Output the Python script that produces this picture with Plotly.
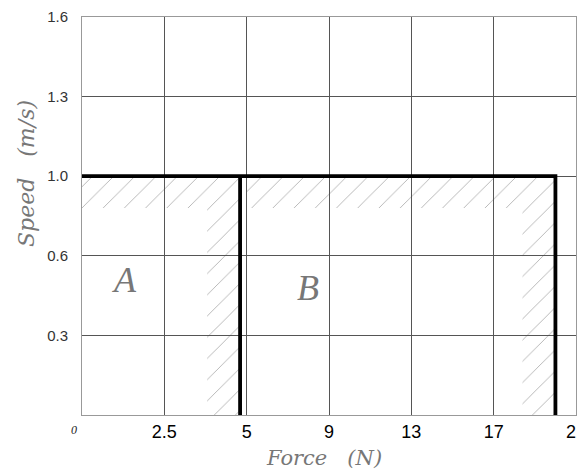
import numpy as np
import plotly.graph_objects as go

# ---- data ----
force_ticks = [0, 2.5, 5, 9, 13, 17, 21]
force_labels = ["", "2.5", "5", "9", "13", "17", "21"]
speed_ticks = [0, 0.3, 0.6, 1.0, 1.3, 1.6]
speed_labels = ["", "0.3", "0.6", "1.0", "1.3", "1.6"]

limit_speed = 1.0
boundary_A = 4.8
boundary_B = 20.0
hatch_band_speed = 0.84
hatch_A_inner = 3.8
hatch_B_start = 5.0
hatch_B_inner = 18.4

region_names = ["A", "B"]
region_force = [1.3, 8.0]
region_speed = [0.51, 0.48]

# ---- piecewise scale (ticks are equally spaced) ----
def fx(v):
    return np.interp(v, force_ticks, np.arange(len(force_ticks))).tolist()

def fy(v):
    return np.interp(v, speed_ticks, np.arange(len(speed_ticks))).tolist()

fig = go.Figure()

hatch = dict(shape="/", fgcolor="#444444", bgcolor="rgba(0,0,0,0)", size=15, solidity=0.05)

polyA_x = [0, boundary_A, boundary_A, hatch_A_inner, hatch_A_inner, 0, 0]
polyA_y = [limit_speed, limit_speed, 0, 0, hatch_band_speed, hatch_band_speed, limit_speed]
polyB_x = [hatch_B_start, boundary_B, boundary_B, hatch_B_inner, hatch_B_inner, hatch_B_start, hatch_B_start]
polyB_y = polyA_y

for px, py in [(polyA_x, polyA_y), (polyB_x, polyB_y)]:
    fig.add_trace(go.Scatter(x=fx(px), y=fy(py), mode="lines", fill="toself",
                             fillcolor="rgba(0,0,0,0)", fillpattern=hatch,
                             line=dict(width=0), hoverinfo="skip", showlegend=False))

# thick limit lines
fig.add_trace(go.Scatter(x=fx([0, boundary_B, boundary_B]), y=fy([limit_speed, limit_speed, 0]),
                         mode="lines", line=dict(color="black", width=3.8), showlegend=False))
fig.add_trace(go.Scatter(x=fx([boundary_A, boundary_A]), y=fy([limit_speed, 0]),
                         mode="lines", line=dict(color="black", width=3.8), showlegend=False))

for name, f, s in zip(region_names, region_force, region_speed):
    fig.add_annotation(x=fx([f])[0], y=fy([s])[0], text=f"<i>{name}</i>", showarrow=False,
                       font=dict(family="Liberation Serif", size=36, color="#777777"))

fig.add_annotation(xref="paper", yref="paper", x=-0.016, y=-0.038, xanchor="center", yanchor="middle",
                   text="<i>0</i>", showarrow=False,
                   font=dict(family="Liberation Serif", size=12, color="#222222"))

fig.add_annotation(xref="paper", yref="paper", x=0.49, y=-0.108, yanchor="middle",
                   text="<i>Force   (N)</i>", showarrow=False,
                   font=dict(family="DejaVu Serif", size=21, color="#777777"))
fig.add_annotation(xref="paper", yref="paper", x=-0.111, y=0.606, xanchor="center", yanchor="middle",
                   text="<i>Speed   (m/s)</i>", showarrow=False, textangle=-90,
                   font=dict(family="DejaVu Serif", size=22, color="#777777"))

fig.update_xaxes(range=[0, 6], tickvals=list(range(7)), ticktext=force_labels,
                 showgrid=True, gridcolor="#555555", gridwidth=1, zeroline=False,
                 showline=True, linecolor="#999999", mirror=True, ticks="",
                 ticklabeloverflow="allow", automargin=False,
                 tickfont=dict(family="Liberation Sans", size=18, color="black"))
fig.update_yaxes(range=[0, 5], tickvals=list(range(6)), ticktext=speed_labels,
                 showgrid=True, gridcolor="#555555", gridwidth=1, zeroline=False,
                 showline=True, linecolor="#999999", mirror=True, ticks="",
                 ticklabelstandoff=10, automargin=False,
                 tickfont=dict(family="Liberation Sans", size=15, color="#333333"))

fig.update_layout(width=585, height=462, margin=dict(l=74, r=17, t=9, b=55),
                  plot_bgcolor="white", paper_bgcolor="white", showlegend=False)

fig.write_html("out.html")
